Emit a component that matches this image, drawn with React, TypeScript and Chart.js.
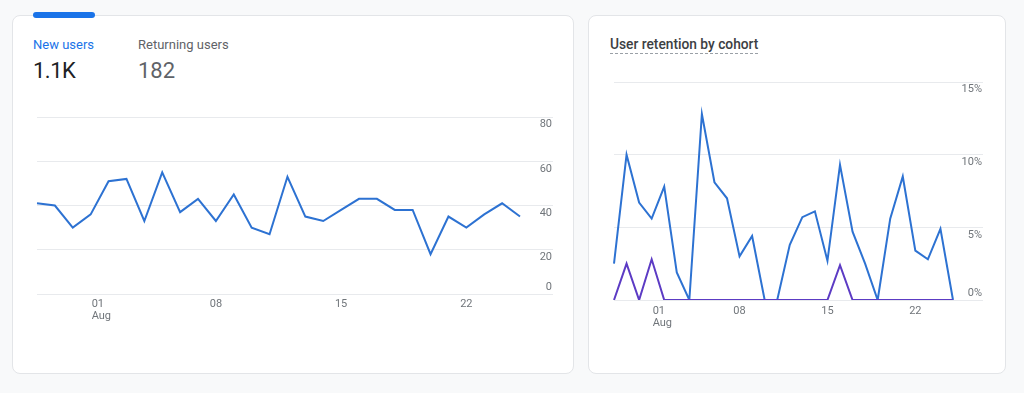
import React, { useEffect, useRef } from 'react';
import { Chart, registerables } from 'chart.js';

Chart.register(...registerables);

// ---- data ----
const dateLabels = [
  'Jul 29', 'Jul 30', 'Jul 31', 'Aug 01', 'Aug 02', 'Aug 03', 'Aug 04',
  'Aug 05', 'Aug 06', 'Aug 07', 'Aug 08', 'Aug 09', 'Aug 10', 'Aug 11',
  'Aug 12', 'Aug 13', 'Aug 14', 'Aug 15', 'Aug 16', 'Aug 17', 'Aug 18',
  'Aug 19', 'Aug 20', 'Aug 21', 'Aug 22', 'Aug 23', 'Aug 24', 'Aug 25',
];
const newUsers = [
  41, 40, 30, 36, 51, 52, 33, 55, 37, 43, 33, 45, 30, 27,
  53, 35, 33, 38, 43, 43, 38, 38, 18, 35, 30, 36, 41, 35,
];
const retentionCohortA = [
  2.5, 10.0, 6.7, 5.6, 7.8, 1.9, 0, 12.8, 8.1, 7.0, 3.0, 4.4, 0, 0,
  3.8, 5.7, 6.1, 2.7, 9.3, 4.7, 2.5, 0, 5.6, 8.5, 3.4, 2.8, 4.9, 0,
];
const retentionCohortB = [
  0, 2.5, 0, 2.8, 0, 0, 0, 0, 0, 0, 0, 0, 0, 0,
  0, 0, 0, 0, 2.4, 0, 0, 0, 0, 0, 0, 0, 0, 0,
];
const xTickIndices = [3, 10, 17, 24];
const xTickLabels = [['01', 'Aug'], ['08'], ['15'], ['22']];
const usersAxis = { min: 0, max: 80, step: 20 };
const retentionAxis = { min: 0, max: 15, step: 5 };

const FONT = 'Roboto, Arial, sans-serif';
const BLUE = '#2d72d2';
const PURPLE = '#5c3bc4';
const GRID = '#e8eaed';
const LABEL = '#70757a';

const axisLabelPlugin = {
  id: 'gaAxisLabels',
  afterDraw(chart: any, _args: any, opts: any) {
    const { ctx, chartArea, scales } = chart;
    const xs = scales.x;
    const ys = scales.y;
    ctx.save();
    ctx.font = `11px ${FONT}`;
    ctx.fillStyle = LABEL;
    ctx.textBaseline = 'middle';
    ctx.textAlign = 'right';
    ys.ticks.forEach((t: any) => {
      const py = ys.getPixelForValue(t.value);
      const dy = t.value === ys.min ? -7 : 7.5;
      ctx.fillText(opts.format(t.value), ys.right - 1, py + dy);
    });
    xTickIndices.forEach((idx, i) => {
      const lines = xTickLabels[i];
      const px = xs.getPixelForValue(idx);
      const multi = lines.length > 1;
      ctx.textAlign = multi ? 'left' : 'center';
      lines.forEach((line, j) => {
        ctx.fillText(line, multi ? px + 1 : px, chartArea.bottom + opts.xOffset + j * 12);
      });
    });
    ctx.restore();
  },
};

function LineChart(props: {
  datasets: any[];
  axis: { min: number; max: number; step: number };
  format: (v: number) => string;
  padding: { left: number; top: number; right: number; bottom: number };
  tickLength: number;
  xOffset: number;
  style: React.CSSProperties;
}) {
  const ref = useRef<HTMLCanvasElement>(null);
  useEffect(() => {
    if (!ref.current) return;
    const chart = new Chart(ref.current, {
      type: 'line',
      data: { labels: dateLabels, datasets: props.datasets },
      options: {
        animation: false,
        responsive: true,
        maintainAspectRatio: false,
        layout: { padding: props.padding },
        elements: {
          point: { radius: 0 },
          line: { borderWidth: 2, tension: 0 },
        },
        plugins: {
          legend: { display: false },
          tooltip: { enabled: false },
          gaAxisLabels: { format: props.format, xOffset: props.xOffset },
        } as any,
        scales: {
          x: { display: false, offset: false },
          y: {
            position: 'right',
            min: props.axis.min,
            max: props.axis.max,
            ticks: { display: false, stepSize: props.axis.step },
            border: { display: false },
            grid: {
              color: GRID,
              lineWidth: 1,
              drawTicks: true,
              tickLength: props.tickLength,
            },
          },
        },
      },
      plugins: [axisLabelPlugin as any],
    });
    return () => chart.destroy();
  }, []);
  return (
    <div style={{ position: 'absolute', ...props.style }}>
      <canvas ref={ref} />
    </div>
  );
}

export default function App() {
  useEffect(() => {
    document.body.style.margin = '0';
    document.body.style.background = '#f8f9fa';
  }, []);

  const card: React.CSSProperties = {
    position: 'absolute',
    top: 15,
    height: 359,
    background: '#ffffff',
    border: '1px solid #e3e5e8',
    borderRadius: 8,
    boxSizing: 'border-box',
  };

  return (
    <div
      style={{
        position: 'relative',
        width: 1024,
        height: 393,
        background: '#f8f9fa',
        overflow: 'hidden',
        fontFamily: FONT,
      }}
    >
      <div style={{ ...card, left: 12, width: 562 }} />
      <div style={{ ...card, left: 588, width: 418 }} />

      <div
        style={{
          position: 'absolute',
          left: 33,
          top: 12,
          width: 62,
          height: 6,
          background: '#1a73e8',
          borderRadius: 3,
        }}
      />
      <div style={{ position: 'absolute', left: 33, top: 36, fontSize: 13, color: '#1a73e8', lineHeight: '18px' }}>
        New users
      </div>
      <div style={{ position: 'absolute', left: 33, top: 57, fontSize: 22, color: '#202124', lineHeight: '28px', letterSpacing: -0.5 }}>
        1.1K
      </div>
      <div style={{ position: 'absolute', left: 138, top: 36, fontSize: 13, color: '#5f6368', lineHeight: '18px' }}>
        Returning users
      </div>
      <div style={{ position: 'absolute', left: 138, top: 57, fontSize: 22, color: '#5f6368', lineHeight: '28px' }}>
        182
      </div>

      <div
        style={{
          position: 'absolute',
          left: 610,
          top: 36,
          fontSize: 13.75,
          fontWeight: 500,
          color: '#3c4043',
          lineHeight: '16px',
          borderBottom: '1px dashed #9aa0a6',
          paddingBottom: 1,
        }}
      >
        User retention by cohort
      </div>

      <LineChart
        datasets={[
          { label: 'New users', data: newUsers, borderColor: BLUE, backgroundColor: BLUE, fill: false },
        ]}
        axis={usersAxis}
        format={(v) => String(v)}
        padding={{ left: 7, top: 12, right: 7, bottom: 36 }}
        tickLength={33}
        xOffset={10}
        style={{ left: 30, top: 105, width: 530, height: 225 }}
      />

      <LineChart
        datasets={[
          { label: 'Cohort B', data: retentionCohortB, borderColor: PURPLE, backgroundColor: PURPLE, fill: false, order: 0 },
          { label: 'Cohort A', data: retentionCohortA, borderColor: BLUE, backgroundColor: BLUE, fill: false, order: 1 },
        ]}
        axis={retentionAxis}
        format={(v) => `${v}%`}
        padding={{ left: 9, top: 12, right: 7, bottom: 35 }}
        tickLength={30}
        xOffset={11}
        style={{ left: 605, top: 70, width: 385, height: 265 }}
      />
    </div>
  );
}
